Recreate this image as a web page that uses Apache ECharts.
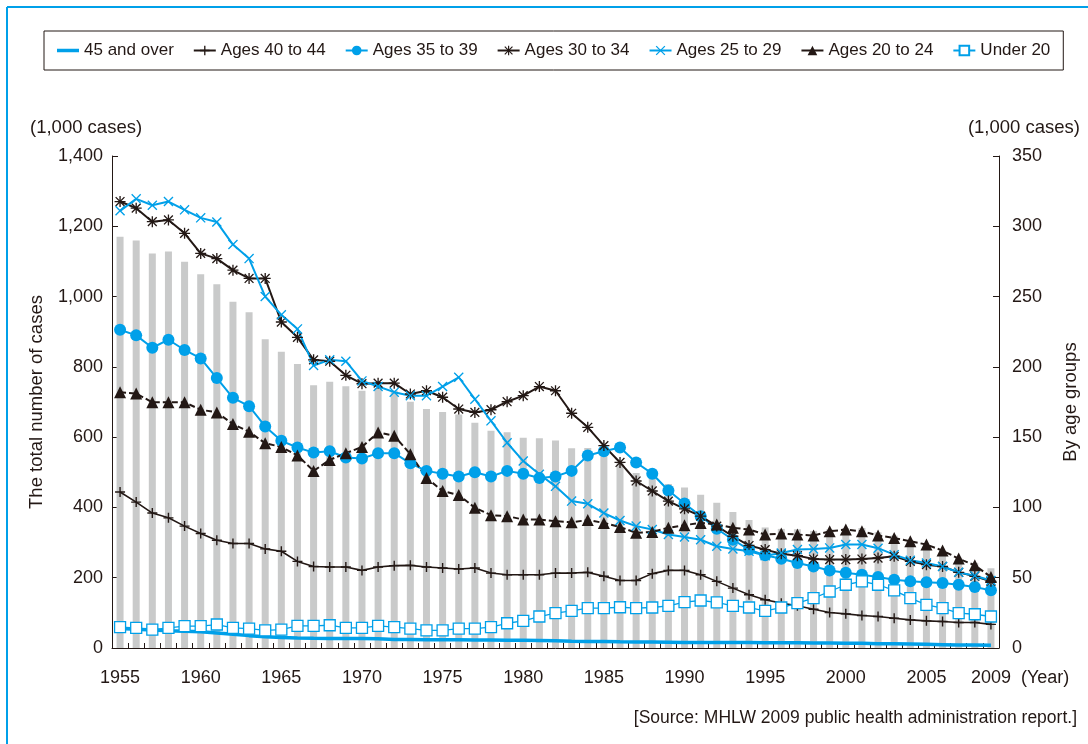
<!DOCTYPE html>
<html>
<head>
<meta charset="utf-8">
<script src="https://cdn.jsdelivr.net/npm/echarts@6/dist/echarts.min.js"></script>
<style>
  html, body { margin: 0; padding: 0; background: #fff; }
  #main { width: 1088px; height: 744px; }
</style>
</head>
<body>
<div id="main"></div>
<script>
var chartDom = document.getElementById('main');
var myChart = echarts.init(chartDom);
var option;

var FONT = '"Liberation Sans", Arial, sans-serif';
var BLUE = '#00a0e9';
var DARK = '#231815';

// years 1955 .. 2009
var years = [];
for (var y = 1955; y <= 2009; y++) years.push(String(y));

// total number of cases (1,000 cases), left axis
var totalCases = [1170.1, 1159.3, 1122.3, 1128.2, 1098.9, 1063.3, 1035.3, 985.4, 955.1, 878.7,
  843.2, 808.4, 747.5, 757.4, 744.5, 732.0, 739.7, 732.7, 700.5, 679.8,
  671.6, 664.1, 641.2, 618.0, 613.7, 598.1, 596.6, 590.3, 568.4, 568.9,
  550.1, 527.9, 497.8, 486.1, 466.9, 456.8, 436.3, 413.0, 386.8, 364.4,
  343.0, 338.9, 337.8, 333.2, 337.3, 341.1, 341.6, 329.3, 319.8, 301.7,
  289.1, 276.4, 256.7, 242.3, 226.9];

// by age groups (1,000 cases), right axis
var age45over = [13.8, 13.3, 12.8, 12.3, 11.9, 11.5, 10.6, 9.7, 8.8, 8.0,
  7.5, 7.1, 6.9, 6.8, 6.8, 6.8, 6.5, 6.1, 6.0, 5.9,
  5.8, 5.8, 5.7, 5.7, 5.6, 5.5, 5.4, 5.2, 4.8, 4.6,
  4.6, 4.4, 4.3, 4.2, 4.1, 4.0, 3.9, 3.9, 3.9, 3.9,
  3.8, 3.8, 3.7, 3.6, 3.5, 3.4, 3.3, 3.1, 3.0, 2.8,
  2.6, 2.4, 2.2, 2.1, 1.9];
var age40to44 = [111, 103.8, 96, 92.6, 86.7, 81.4, 76.7, 74.3, 74.3, 70.5,
  68.8, 61.6, 58, 57.6, 57.6, 55.2, 57.6, 58.6, 58.8, 57.6,
  56.9, 56.2, 56.9, 53.3, 52.1, 52.1, 52.1, 53.3, 53.3, 53.8,
  51, 48, 48, 52.9, 55.2, 55.2, 52.1, 47.4, 42.6, 37.9,
  34.3, 31.9, 30, 27.6, 25.2, 24.3, 23.1, 22.4, 21.2, 20,
  19.3, 18.8, 18.1, 18.1, 16.8];
var age35to39 = [226.4, 222.4, 213.6, 219.3, 212, 206, 192, 178, 172, 157.6,
  147.4, 142.6, 139, 140, 135.5, 134.8, 138.6, 138.6, 131.4, 126,
  124, 122, 125, 122, 126, 124, 121, 122, 126, 137,
  140, 142.6, 132, 124, 112, 102.8, 93.8, 84.8, 77, 70,
  66, 63.5, 60.5, 58, 55.2, 53.5, 52.1, 50.5, 48.6, 47.4,
  46.7, 46.2, 45, 43.4, 41];
var age30to34 = [317.6, 312.9, 303.3, 304.5, 295, 280.7, 277, 268.8, 262.9, 262.9,
  231.9, 221, 205, 204, 194, 188, 188.4, 188.4, 180.7, 183,
  178.4, 170, 167.6, 169.5, 175.2, 179.5, 186, 183, 167, 157,
  144, 132, 118.8, 111.7, 104.5, 99, 93.8, 86.7, 79.5, 72.9,
  70, 67, 65.7, 63.3, 62.9, 62.9, 63.3, 64, 65.2, 61.6,
  59.3, 58, 53.8, 51, 47.4];
var age25to29 = [311, 319.5, 315, 317.6, 311.7, 306, 303, 287, 277, 250,
  237, 227, 201, 205, 204, 190, 186, 182, 179.5, 179.5,
  186, 192.6, 177, 161.6, 146, 133, 123.6, 115, 104.5, 102.6,
  96, 90.7, 86.7, 84.3, 80.7, 79, 77, 72.4, 70.5, 68.8,
  65.7, 67.6, 70, 70.5, 71.2, 73.6, 73.6, 71, 66.4, 62.4,
  60.5, 58, 53.8, 51.4, 48];
var age20to24 = [182, 181, 174.8, 174.8, 174.8, 169.5, 167.6, 159.3, 153.8, 145.7,
  143, 137, 126, 133.8, 138.6, 143, 153.3, 151, 137.9, 121,
  111.7, 108.8, 99.8, 94.5, 93.8, 91.4, 91.4, 90.2, 89.5, 91,
  89, 86, 82, 82.6, 85.5, 87.4, 89, 87.9, 85.5, 84.3,
  80.7, 81.4, 80.7, 80, 83, 84.3, 83, 80, 78.3, 75.9,
  73.6, 69.3, 63.6, 58.8, 50.5];
var under20 = [14.8, 14.3, 13.1, 14.3, 15.5, 15.5, 16.7, 14.3, 13.8, 12.6,
  13.1, 15.7, 15.7, 16.2, 14.3, 14.3, 15.7, 14.8, 13.8, 12.6,
  12.6, 13.8, 13.8, 14.8, 17.6, 19.3, 22.4, 24.8, 26.4, 28.3,
  28.3, 29, 28.3, 28.8, 30, 32.6, 33.8, 32.4, 30, 28.8,
  26.4, 28.8, 31.9, 35.5, 40.2, 45, 47.4, 45, 41, 35.5,
  30.7, 28.3, 24.8, 24, 22.4];

// marker shapes (thin strokes built as filled bars)
var plusPath = 'path://M-0.7,-5H0.7V5H-0.7Z M-5,-0.7H5V0.7H-5Z';
var crossPath = 'path://M-3.58,-4.42L4.42,3.58L3.58,4.42L-4.42,-3.58Z M-4.42,3.58L3.58,-4.42L4.42,-3.58L-3.58,4.42Z';
var starPath = 'path://M-0.6,-5H0.6V5H-0.6Z M-5,-0.6H5V0.6H-5Z ' +
  'M-3.58,-4.42L4.42,3.58L3.58,4.42L-4.42,-3.58Z M-4.42,3.58L3.58,-4.42L4.42,-3.58L-3.58,4.42Z';
var thickLineIcon = 'path://M0,0H22V3.5H0Z';

function lineSeries(name, data, color, symbol, size, width, extra) {
    var s = {
        name: name,
        type: 'line',
        yAxisIndex: 1,
        data: data,
        symbol: symbol,
        symbolSize: size,
        showAllSymbol: true,
        lineStyle: { color: color, width: width },
        itemStyle: { color: color, borderWidth: 0 },
        z: 3
    };
    for (var k in extra) s[k] = extra[k];
    return s;
}

option = {
    animation: false,
    textStyle: { fontFamily: FONT, color: DARK },
    title: {
        text: '[Source: MHLW 2009 public health administration report.]',
        right: 11,
        top: 709,
        padding: 0,
        textStyle: { fontFamily: FONT, fontSize: 17.5, fontWeight: 'normal', color: DARK }
    },
    legend: {
        left: 44,
        top: 31,
        padding: [11, 13],
        borderColor: DARK,
        borderWidth: 1,
        itemWidth: 22,
        itemHeight: 12,
        itemGap: 19,
        textStyle: { fontFamily: FONT, fontSize: 17, color: DARK },
        data: [
            { name: '45 and over', icon: thickLineIcon },
            { name: 'Ages 40 to 44' },
            { name: 'Ages 35 to 39' },
            { name: 'Ages 30 to 34' },
            { name: 'Ages 25 to 29' },
            { name: 'Ages 20 to 24', lineStyle: { type: 'solid' } },
            { name: 'Under 20' }
        ]
    },
    grid: { left: 112, right: 85, top: 156, bottom: 96 },
    xAxis: {
        type: 'category',
        data: years,
        boundaryGap: true,
        name: '(Year)',
        nameLocation: 'end',
        nameGap: 22,
        nameTextStyle: { fontFamily: FONT, fontSize: 18, color: DARK, verticalAlign: 'top', padding: [21, 0, 0, 0] },
        axisLine: { lineStyle: { color: DARK, width: 1 } },
        axisTick: { show: true, inside: true, length: 5, interval: 0, lineStyle: { color: DARK } },
        axisLabel: {
            margin: 21,
            fontSize: 18,
            color: DARK,
            fontFamily: FONT,
            interval: function (idx) { return idx % 5 === 0 || idx === years.length - 1; }
        },
        splitLine: { show: false }
    },
    yAxis: [
        {
            type: 'value',
            min: 0,
            max: 1400,
            interval: 200,
            name: 'The total number of cases',
            nameLocation: 'middle',
            nameRotate: 90,
            nameGap: 66,
            nameTextStyle: { fontFamily: FONT, fontSize: 18.5, color: DARK },
            axisLine: { show: true, lineStyle: { color: DARK, width: 1 } },
            axisTick: { show: true, inside: true, length: 6, lineStyle: { color: DARK } },
            axisLabel: {
                margin: 9,
                fontSize: 18,
                color: DARK,
                fontFamily: FONT,
                formatter: function (v) { return String(v).replace(/\B(?=(\d{3})+(?!\d))/g, ','); }
            },
            splitLine: { show: false }
        },
        {
            type: 'value',
            min: 0,
            max: 350,
            interval: 50,
            position: 'right',
            name: 'By age groups',
            nameLocation: 'middle',
            nameRotate: 90,
            nameGap: 62,
            nameTextStyle: { fontFamily: FONT, fontSize: 18.5, color: DARK },
            axisLine: { show: true, lineStyle: { color: DARK, width: 1 } },
            axisTick: { show: true, inside: true, length: 6, lineStyle: { color: DARK } },
            axisLabel: { margin: 13, fontSize: 18, color: DARK, fontFamily: FONT },
            splitLine: { show: false }
        }
    ],
    graphic: [
        { type: 'line', shape: { x1: 7, y1: 7, x2: 1088, y2: 7 }, style: { stroke: BLUE, lineWidth: 2 } },
        { type: 'line', shape: { x1: 7, y1: 7, x2: 7, y2: 744 }, style: { stroke: BLUE, lineWidth: 2 } },
        { type: 'text', left: 30, top: 118, style: { text: '(1,000 cases)', font: '18.5px ' + FONT, fill: DARK } },
        { type: 'text', right: 8, top: 118, style: { text: '(1,000 cases)', font: '18.5px ' + FONT, fill: DARK } }
    ],
    series: [
        {
            name: 'Total',
            type: 'bar',
            yAxisIndex: 0,
            data: totalCases,
            barWidth: 7,
            itemStyle: { color: '#c9caca' },
            z: 1
        },
        lineSeries('45 and over', age45over, BLUE, 'none', 0, 3.5, {}),
        lineSeries('Ages 40 to 44', age40to44, DARK, plusPath, 10, 1.6, {}),
        lineSeries('Ages 35 to 39', age35to39, BLUE, 'circle', 12, 2, {}),
        lineSeries('Ages 30 to 34', age30to34, DARK, starPath, 11, 2, {}),
        lineSeries('Ages 25 to 29', age25to29, BLUE, crossPath, 10, 2, {}),
        lineSeries('Ages 20 to 24', age20to24, DARK, 'triangle', 12, 2, {
            lineStyle: { color: DARK, width: 2, type: [6, 3] }
        }),
        lineSeries('Under 20', under20, BLUE, 'rect', 11, 1.3, {
            itemStyle: { color: '#ffffff', borderColor: BLUE, borderWidth: 1.3 }
        })
    ]
};

option && myChart.setOption(option);
</script>
</body>
</html>
